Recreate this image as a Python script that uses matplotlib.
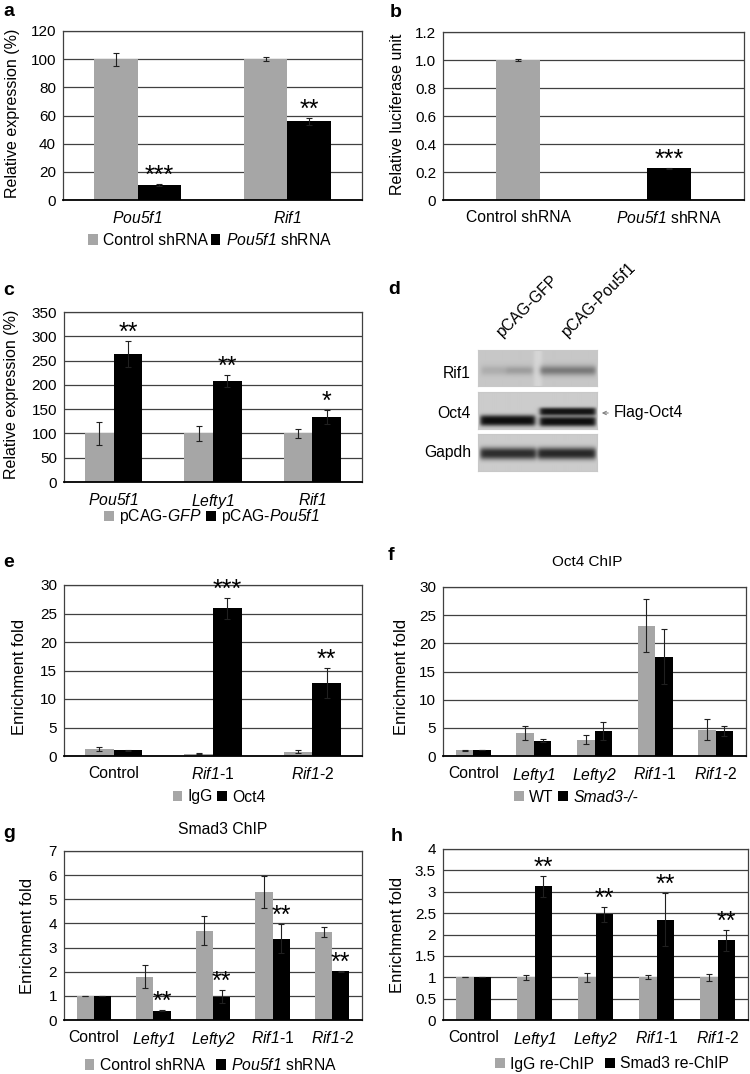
import numpy as np
import matplotlib
matplotlib.use('Agg')
import matplotlib.pyplot as plt
from matplotlib.patches import Patch, FancyArrowPatch

plt.rcParams['font.family'] = ['Liberation Sans', 'DejaVu Sans']
plt.rcParams['mathtext.fontset'] = 'custom'
plt.rcParams['mathtext.rm'] = 'Liberation Sans:italic'
plt.rcParams['mathtext.it'] = 'Liberation Sans:italic'
plt.rcParams['mathtext.bf'] = 'Liberation Sans:bold'

W, H = 750, 1074
GRAY = '#a6a6a6'
BLACK = '#000000'
GRID = '#404040'

# ---------------- data ----------------
# a
a_categories = [r'$\mathit{Pou5f1}$', r'$\mathit{Rif1}$']
a_series = ['Control shRNA', r'$\mathit{Pou5f1}$ shRNA']
a_control = [100, 100]
a_control_err = [4.5, 1.2]
a_kd = [10.8, 55.8]
a_kd_err = [0.6, 2.6]
a_stars = ['***', '**']
a_yticks = [0, 20, 40, 60, 80, 100, 120]

# b
b_categories = ['Control shRNA', r'$\mathit{Pou5f1}$ shRNA']
b_values = [1.0, 0.226]
b_err = [0.01, 0.006]
b_stars = ['', '***']
b_yticks = [0, 0.2, 0.4, 0.6, 0.8, 1.0, 1.2]
b_yticklabels = ['0', '0.2', '0.4', '0.6', '0.8', '1.0', '1.2']

# c
c_categories = [r'$\mathit{Pou5f1}$', r'$\mathit{Lefty1}$', r'$\mathit{Rif1}$']
c_series = [r'pCAG-$\mathit{GFP}$', r'pCAG-$\mathit{Pou5f1}$']
c_gfp = [100, 100, 100]
c_gfp_err = [23, 15, 9]
c_oe = [264, 208, 134]
c_oe_err = [27, 13, 15]
c_stars = ['**', '**', '*']
c_yticks = [0, 50, 100, 150, 200, 250, 300, 350]

# d (western blot)
d_lanes = ['pCAG-GFP', 'pCAG-Pou5f1']
d_rows = ['Rif1', 'Oct4', 'Gapdh']

# e
e_categories = ['Control', r'$\mathit{Rif1}$-1', r'$\mathit{Rif1}$-2']
e_series = ['IgG', 'Oct4']
e_igg = [1.2, 0.4, 0.75]
e_igg_err = [0.3, 0.1, 0.3]
e_oct4 = [1.0, 25.9, 12.8]
e_oct4_err = [0.05, 1.8, 2.7]
e_stars = ['', '***', '**']
e_yticks = [0, 5, 10, 15, 20, 25, 30]

# f
f_categories = ['Control', r'$\mathit{Lefty1}$', r'$\mathit{Lefty2}$', r'$\mathit{Rif1}$-1', r'$\mathit{Rif1}$-2']
f_series = ['WT', 'Smad3-/-']
f_wt = [1.0, 4.1, 2.9, 23.1, 4.7]
f_wt_err = [0.1, 1.3, 0.8, 4.7, 1.8]
f_ko = [1.05, 2.7, 4.4, 17.6, 4.4]
f_ko_err = [0.03, 0.25, 1.6, 4.9, 0.9]
f_yticks = [0, 5, 10, 15, 20, 25, 30]

# g
g_categories = f_categories
g_series = ['Control shRNA', r'$\mathit{Pou5f1}$ shRNA']
g_control = [1.0, 1.8, 3.7, 5.3, 3.65]
g_control_err = [0.01, 0.46, 0.6, 0.68, 0.2]
g_kd = [1.0, 0.38, 0.97, 3.37, 2.02]
g_kd_err = [0.0, 0.02, 0.27, 0.6, 0.03]
g_stars = ['', '**', '**', '**', '**']
g_yticks = [0, 1, 2, 3, 4, 5, 6, 7]

# h
h_categories = f_categories
h_series = ['IgG re-ChIP', 'Smad3 re-ChIP']
h_igg = [1.0, 1.0, 1.0, 1.0, 1.0]
h_igg_err = [0.005, 0.06, 0.1, 0.05, 0.08]
h_smad3 = [1.0, 3.13, 2.47, 2.34, 1.86]
h_smad3_err = [0.0, 0.25, 0.17, 0.62, 0.25]
h_stars = ['', '**', '**', '**', '**']
h_yticks = [0, 0.5, 1, 1.5, 2, 2.5, 3, 3.5, 4]
h_yticklabels = ['0', '0.5', '1', '1.5', '2', '2.5', '3', '3.5', '4']

# ---------------- helpers ----------------
fig = plt.figure(figsize=(W / 100, H / 100), dpi=100)
fig.patch.set_facecolor('white')

TICK_FS = 11
XTICK_FS = 11.3
LEG_FS = 11.3
STAR_FS = 18
W_BAR = 0.29
EK = dict(ecolor='#202020', elinewidth=0.8, capsize=2, capthick=0.8, zorder=3)


def fx(x):
    return x / W


def fy(y):
    return 1 - y / H


def px_axes(x0, y0, x1, y1):
    return fig.add_axes([x0 / W, 1 - y1 / H, (x1 - x0) / W, (y1 - y0) / H])


def style(ax, cats, yticks, ylabels=None):
    n = len(cats)
    ax.set_xlim(-0.5, n - 0.5)
    ax.set_ylim(yticks[0], yticks[-1])
    ax.set_yticks(yticks)
    ax.set_yticklabels(ylabels if ylabels else [str(t) for t in yticks], fontsize=TICK_FS)
    ax.set_xticks(np.arange(n))
    ax.set_xticklabels(cats, fontsize=XTICK_FS)
    ax.yaxis.grid(True, color=GRID, lw=0.9)
    ax.set_axisbelow(True)
    ax.tick_params(axis='both', length=0)
    ax.tick_params(axis='y', pad=5)
    ax.tick_params(axis='x', pad=7)
    for s in ax.spines.values():
        s.set_color(GRID)
        s.set_linewidth(0.9)
    ax.spines['bottom'].set_color('black')
    ax.spines['bottom'].set_linewidth(1.3)


def grouped(ax, s1, e1, s2, e2):
    x = np.arange(len(s1))
    ax.bar(x - W_BAR / 2, s1, W_BAR, color=GRAY, yerr=e1, error_kw=EK, zorder=2)
    ax.bar(x + W_BAR / 2, s2, W_BAR, color=BLACK, yerr=e2, error_kw=EK, zorder=2)


def stars(ax, xs, tops, errs, labels):
    for x, t, e, s in zip(xs, tops, errs, labels):
        if s:
            ax.annotate(s, (x, t + e), xytext=(0, 0.8), textcoords='offset points',
                        ha='center', va='baseline', fontsize=STAR_FS)


def legend(ax, labels, xc, yc, colsp, italic=()):
    handles = [Patch(facecolor=GRAY, edgecolor='none'), Patch(facecolor=BLACK, edgecolor='none')]
    leg = ax.legend(handles, labels, loc='center', bbox_to_anchor=(fx(xc), fy(yc)),
                    bbox_transform=fig.transFigure, ncol=2, frameon=False, fontsize=LEG_FS,
                    handlelength=0.62, handleheight=0.62, handletextpad=0.35,
                    columnspacing=colsp, borderpad=0, borderaxespad=0)
    for i in italic:
        leg.get_texts()[i].set_fontstyle('italic')


def ylab(text, x, y, fs):
    fig.text(fx(x), fy(y), text, rotation=90, ha='center', va='center', fontsize=fs)


def letter(s, x, y):
    fig.text(fx(x), fy(y), s, fontsize=14, fontweight='bold', ha='left', va='baseline')


# ---------------- panel a ----------------
ax = px_axes(63, 31, 362, 200)
grouped(ax, a_control, a_control_err, a_kd, a_kd_err)
style(ax, a_categories, a_yticks)
stars(ax, np.arange(2) + W_BAR / 2, a_kd, a_kd_err, a_stars)
legend(ax, a_series, 210, 240, 0.15)
ylab('Relative expression (%)', 13, 113, 11.5)
letter('a', 3, 16)

# ---------------- panel b ----------------
ax = px_axes(443, 32, 744, 200)
xb = np.arange(2)
ax.bar(xb, b_values, W_BAR, color=[GRAY, BLACK], yerr=b_err, error_kw=EK, zorder=2)
style(ax, b_categories, b_yticks, b_yticklabels)
stars(ax, xb, b_values, b_err, b_stars)
ylab('Relative luciferase unit', 397, 114, 11.5)
letter('b', 390, 17)

# ---------------- panel c ----------------
ax = px_axes(64, 312, 362, 482)
grouped(ax, c_gfp, c_gfp_err, c_oe, c_oe_err)
style(ax, c_categories, c_yticks)
stars(ax, np.arange(3) + W_BAR / 2, c_oe, c_oe_err, c_stars)
legend(ax, c_series, 212, 517, 0.25)
ylab('Relative expression (%)', 12, 394, 11.5)
letter('c', 3, 295)

# ---------------- panel d (western blot) ----------------
def lane(n, start, end, soft=2.5):
    c = np.arange(n)
    return 0.5 * (np.tanh((c - start) / soft) - np.tanh((c - end) / soft))


def band(n, center, sigma, power=2.0):
    r = np.arange(n)
    return np.exp(-np.abs((r - center) / sigma) ** power)


def strip(y0, y1, bg, bands, gap=0.0):
    ncol, nrow = 120, int(y1 - y0)
    img = np.full((nrow, ncol), bg)
    img += gap * lane(ncol, 56, 64, 2)[None, :]
    for (c0, c1, rc, sig, pw, amp) in bands:
        img -= amp * band(nrow, rc, sig, pw)[:, None] * lane(ncol, c0, c1)[None, :]
    bx = px_axes(478, y0, 597, y1)
    bx.imshow(np.clip(img, 0, 1), cmap='gray', vmin=0, vmax=1, aspect='auto',
              interpolation='bilinear')
    bx.set_xticks([])
    bx.set_yticks([])
    for s in bx.spines.values():
        s.set_color('#c8c8c8')
        s.set_linewidth(0.8)
    return bx


strip(350, 386, 0.78, [(3, 55, 20, 5, 2, 0.10), (28, 55, 20, 4, 2, 0.06),
                       (62, 118, 20, 5, 2, 0.30)], gap=0.06)
strip(392, 429, 0.80, [(2, 57, 28, 5.5, 3, 0.74), (62, 118, 19, 4, 3, 0.72),
                       (62, 118, 29, 5, 3, 0.74)])
strip(434, 471, 0.80, [(2, 58, 19, 6, 2.5, 0.62), (60, 118, 19, 6, 2.5, 0.64)])

for name, yc in zip(d_rows, [374, 413, 453]):
    fig.text(fx(471), fy(yc), name, ha='right', va='center', fontsize=11.3)
for name, x0 in zip(d_lanes, [502, 567]):
    fig.text(fx(x0), fy(338), name, rotation=45, rotation_mode='anchor',
             ha='left', va='baseline', fontsize=11.3)
fig.text(fx(614), fy(413), 'Flag-Oct4', ha='left', va='center', fontsize=11.3)
fig.add_artist(FancyArrowPatch(
    (fx(611), fy(413)), (fx(599), fy(413)), transform=fig.transFigure,
    arrowstyle='->', mutation_scale=6, color='#808080', lw=0.8))
letter('d', 388, 294)

# ---------------- panel e ----------------
ax = px_axes(64, 585, 362, 756)
grouped(ax, e_igg, e_igg_err, e_oct4, e_oct4_err)
style(ax, e_categories, e_yticks)
stars(ax, np.arange(3) + W_BAR / 2, e_oct4, e_oct4_err, e_stars)
legend(ax, e_series, 219, 797, 0.25)
ylab('Enrichment fold', 20, 677, 12)
letter('e', 3, 567)

# ---------------- panel f ----------------
ax = px_axes(443, 587, 746, 756)
grouped(ax, f_wt, f_wt_err, f_ko, f_ko_err)
style(ax, f_categories, f_yticks)
fig.text(fx(587), fy(562), 'Oct4 ChIP', ha='center', va='center', fontsize=11)
legend(ax, f_series, 576, 797, 0.3, italic=(1,))
ylab('Enrichment fold', 402, 677, 12)
letter('f', 388, 560)

# ---------------- panel g ----------------
ax = px_axes(64, 851, 362, 1020)
grouped(ax, g_control, g_control_err, g_kd, g_kd_err)
style(ax, g_categories, g_yticks)
fig.text(fx(223), fy(829), 'Smad3 ChIP', ha='center', va='center', fontsize=11.3)
stars(ax, np.arange(5) + W_BAR / 2, g_kd, g_kd_err, g_stars)
legend(ax, g_series, 211, 1065, 0.7)
ylab('Enrichment fold', 28, 936, 12)
letter('g', 3, 838)

# ---------------- panel h ----------------
ax = px_axes(443, 849, 748, 1020)
grouped(ax, h_igg, h_igg_err, h_smad3, h_smad3_err)
style(ax, h_categories, h_yticks, h_yticklabels)
stars(ax, np.arange(5) + W_BAR / 2, h_smad3, h_smad3_err, h_stars)
legend(ax, h_series, 612, 1064, 0.7)
ylab('Enrichment fold', 397, 935, 12)
letter('h', 391, 841)

fig.savefig('out.png', dpi=100, facecolor='white')
